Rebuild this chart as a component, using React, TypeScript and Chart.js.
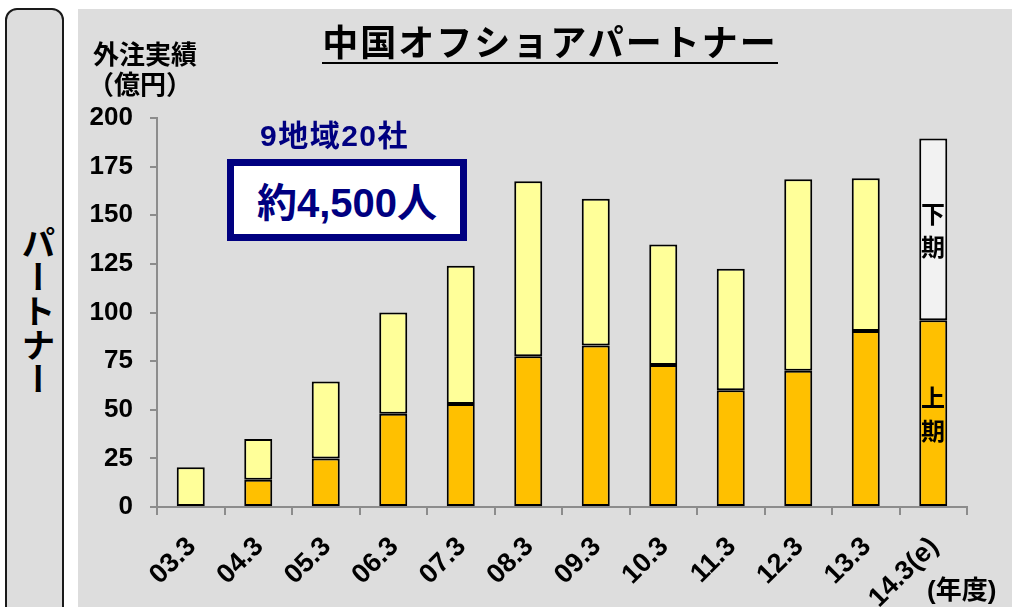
import React, { useEffect, useRef } from 'react';
import { Chart, registerables } from 'chart.js';

Chart.register(...registerables);

const categories = ['03.3', '04.3', '05.3', '06.3', '07.3', '08.3', '09.3', '10.3', '11.3', '12.3', '13.3', '14.3(e)'];
const firstHalf = [0.5, 14, 25, 48, 53, 77.5, 83, 73, 60, 70, 90.5, 96];
const secondHalf = [20, 21, 39.5, 52, 71, 90, 75.5, 62, 62.5, 98.5, 78.5, 93.5];
const yMin = 0;
const yMax = 200;
const yStep = 25;

const title = '中国オフショアパートナー';
const yTitleLine1 = '外注実績';
const yTitleLine2 = '（億円）';
const xUnit = '(年度)';
const sideLabel = 'パートナー';
const note1 = '9地域20社';
const note2 = '約4,500人';

const LOWER = '#FFC000';
const UPPER = '#FFFF99';
const UPPER_EST = '#F2F2F2';
const NAVY = '#000080';
const AXIS = '#8c8c8c';

export default function App() {
  const ref = useRef<HTMLCanvasElement | null>(null);

  useEffect(() => {
    if (!ref.current) return;
    const upperColors = secondHalf.map((_, i) => (i === secondHalf.length - 1 ? UPPER_EST : UPPER));
    const chart = new Chart(ref.current, {
      type: 'bar',
      data: {
        labels: categories,
        datasets: [
          {
            label: '上期',
            data: firstHalf,
            backgroundColor: LOWER,
            borderColor: '#000000',
            borderWidth: 2,
            borderSkipped: false,
            barPercentage: 0.415,
            categoryPercentage: 1,
          },
          {
            label: '下期',
            data: secondHalf,
            backgroundColor: upperColors,
            borderColor: '#000000',
            borderWidth: 2,
            borderSkipped: false,
            barPercentage: 0.415,
            categoryPercentage: 1,
          },
        ],
      },
      options: {
        animation: false,
        responsive: false,
        maintainAspectRatio: false,
        layout: { padding: { left: 78, top: 118, right: 45, bottom: 0 } },
        plugins: {
          legend: { display: false },
          tooltip: { enabled: false },
          title: { display: false },
        },
        scales: {
          x: {
            stacked: true,
            offset: true,
            grid: {
              display: true,
              offset: true,
              drawOnChartArea: false,
              drawTicks: true,
              tickLength: 8,
              color: AXIS,
              lineWidth: 2,
            },
            border: { display: true, color: AXIS, width: 2 },
            ticks: {
              color: '#000000',
              font: { family: 'Liberation Sans', size: 27, weight: 'bold' },
              maxRotation: 45,
              minRotation: 45,
              padding: 16,
              labelOffset: 1,
              autoSkip: false,
            },
            afterFit: (scale: any) => {
              scale.height = 100;
            },
          },
          y: {
            stacked: true,
            min: yMin,
            max: yMax,
            grid: {
              display: true,
              drawOnChartArea: false,
              drawTicks: true,
              tickLength: 7,
              color: AXIS,
              lineWidth: 2,
            },
            border: { display: true, color: AXIS, width: 2 },
            ticks: {
              stepSize: yStep,
              color: '#000000',
              font: { family: 'Liberation Sans', size: 26, weight: 'bold' },
              padding: 17,
            },
            afterFit: (scale: any) => {
              scale.width = 79;
            },
          },
        },
      },
    });
    return () => chart.destroy();
  }, []);

  const cjk = '"Liberation Sans", "Noto Sans CJK JP", sans-serif';

  return (
    <div style={{ position: 'fixed', left: 0, top: 0, width: 1012, height: 607, background: '#ffffff', overflow: 'hidden', fontFamily: cjk }}>
      <div style={{ position: 'absolute', left: 5, top: 8, width: 59, height: 640, boxSizing: 'border-box', border: '2px solid #1a1a1a', borderRadius: 12, background: '#dddddd' }} />
      <div style={{ position: 'absolute', left: 21, top: 226, fontSize: 34, lineHeight: '34px', fontWeight: 700, writingMode: 'vertical-rl', fontFamily: '"Noto Sans CJK JP", sans-serif', color: '#000' }}>{sideLabel}</div>
      <div style={{ position: 'absolute', left: 78, top: 9, width: 934, height: 598, background: '#dddddd' }} />
      <canvas ref={ref} width={1012} height={607} style={{ position: 'absolute', left: 0, top: 0, width: 1012, height: 607 }} />
      <div style={{ position: 'absolute', left: 300, top: 22, width: 500, textAlign: 'center' }}>
        <span style={{ display: 'inline-block', fontSize: 36, lineHeight: '36px', fontWeight: 700, letterSpacing: 2, paddingBottom: 4, borderBottom: '2px solid #000', color: '#000', fontFamily: '"Noto Sans CJK JP", sans-serif' }}>{title}</span>
      </div>
      <div style={{ position: 'absolute', left: 93, top: 40, fontSize: 26, lineHeight: '26px', fontWeight: 700, color: '#000', fontFamily: '"Noto Sans CJK JP", sans-serif' }}>{yTitleLine1}</div>
      <div style={{ position: 'absolute', left: 88, top: 70, fontSize: 26, lineHeight: '26px', fontWeight: 700, color: '#000', fontFamily: '"Noto Sans CJK JP", sans-serif' }}>{yTitleLine2}</div>
      <div style={{ position: 'absolute', left: 260, top: 121, fontSize: 30, lineHeight: '30px', fontWeight: 700, color: NAVY, letterSpacing: 1.5 }}>{note1}</div>
      <div style={{ position: 'absolute', left: 227, top: 159, width: 240, height: 82, boxSizing: 'border-box', border: `7px solid ${NAVY}`, background: '#ffffff', display: 'flex', alignItems: 'center', justifyContent: 'center', fontSize: 40, fontWeight: 700, color: NAVY }}>{note2}</div>
      <div style={{ position: 'absolute', left: 927, top: 577, fontSize: 26, lineHeight: '26px', fontWeight: 700, color: '#000' }}>{xUnit}</div>
      <div style={{ position: 'absolute', left: 919, top: 196, width: 28, textAlign: 'center', fontSize: 24, lineHeight: '33px', fontWeight: 700, color: '#000', fontFamily: '"Noto Sans CJK JP", sans-serif' }}>下<br />期</div>
      <div style={{ position: 'absolute', left: 919, top: 380, width: 28, textAlign: 'center', fontSize: 24, lineHeight: '33px', fontWeight: 700, color: '#000', fontFamily: '"Noto Sans CJK JP", sans-serif' }}>上<br />期</div>
    </div>
  );
}
